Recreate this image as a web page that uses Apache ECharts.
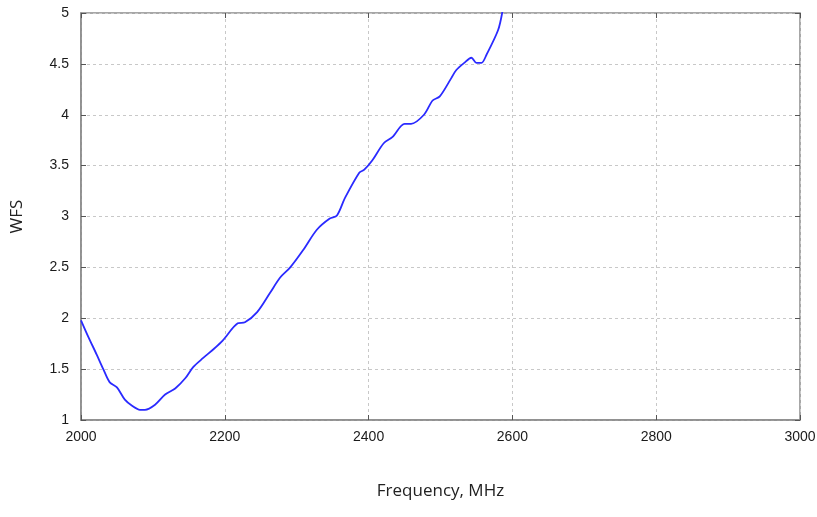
<!DOCTYPE html>
<html>
<head>
<meta charset="utf-8">
<title>WFS vs Frequency</title>
<script src="https://cdn.jsdelivr.net/npm/echarts@6/dist/echarts.min.js"></script>
<style>
  html, body { margin: 0; padding: 0; background: #fff; }
  #chart { width: 817px; height: 517px; }
</style>
</head>
<body>
<div id="chart"></div>
<script>
// 频率 (MHz)
var freq = [2000, 2010, 2022, 2031, 2040, 2050, 2061, 2071, 2082, 2089, 2103, 2117, 2131, 2145, 2156, 2170, 2185, 2197,
  2218, 2228, 2245, 2263, 2277, 2291, 2309, 2328, 2346, 2356, 2367, 2387, 2394, 2405, 2421, 2433, 2450, 2459,
  2477, 2489, 2499, 2515, 2522, 2533, 2543, 2550, 2557, 2564, 2580, 2586];
// WFS
var wfs = [1.98, 1.82, 1.64, 1.50, 1.37, 1.32, 1.20, 1.14, 1.10, 1.10, 1.15, 1.25, 1.31, 1.41, 1.52, 1.61, 1.70, 1.78,
  1.95, 1.96, 2.06, 2.25, 2.40, 2.50, 2.67, 2.87, 2.98, 3.01, 3.18, 3.43, 3.46, 3.55, 3.72, 3.78, 3.91, 3.91,
  4.00, 4.14, 4.18, 4.36, 4.44, 4.51, 4.56, 4.51, 4.51, 4.59, 4.83, 5.01];
var xTicks = [2000, 2200, 2400, 2600, 2800, 3000];
var yTicks = [1, 1.5, 2, 2.5, 3, 3.5, 4, 4.5, 5];

var points = freq.map(function (f, i) { return [f, wfs[i]]; });

var myChart = echarts.init(document.getElementById("chart"));

var labelFont = { color: "#1a1a1a", fontSize: 14, fontFamily: "Liberation Sans, Arial" };
var splitDash = { show: true, lineStyle: { color: "#c8c8c8", type: [3, 3], width: 1 } };

myChart.setOption({
  animation: false,
  grid: {
    left: 81,
    right: 17,
    top: 13,
    bottom: 97,
    outerBoundsMode: "none",
    containLabel: false,
    show: true,
    borderColor: "#8a8a8a",
    borderWidth: 1.5,
  },
  xAxis: [
    {
      type: "value",
      min: xTicks[0],
      max: xTicks[xTicks.length - 1],
      interval: 200,
      name: "Frequency, MHz",
      nameLocation: "middle",
      nameGap: 63,
      nameTextStyle: { color: "#222", fontSize: 17, fontFamily: "Open Sans" },
      axisLine: { show: true, lineStyle: { color: "#8a8a8a", width: 1.5 } },
      axisTick: { show: true, inside: true, length: 5, lineStyle: { color: "#555" } },
      axisLabel: Object.assign({ margin: 10, formatter: function (v) { return String(v); } }, labelFont),
      splitLine: splitDash,
    },
    {
      type: "value",
      position: "top",
      min: xTicks[0],
      max: xTicks[xTicks.length - 1],
      interval: 200,
      axisLine: { show: false },
      axisTick: { show: true, inside: true, length: 5, lineStyle: { color: "#555" } },
      axisLabel: { show: false },
      splitLine: { show: false },
    },
  ],
  yAxis: [
    {
      type: "value",
      min: yTicks[0],
      max: yTicks[yTicks.length - 1],
      interval: 0.5,
      name: "WFS",
      nameLocation: "middle",
      nameGap: 55,
      nameRotate: 90,
      nameTextStyle: { color: "#222", fontSize: 17, fontFamily: "Open Sans" },
      axisLine: { show: true, lineStyle: { color: "#8a8a8a", width: 1.5 } },
      axisTick: { show: true, inside: true, length: 5, lineStyle: { color: "#555" } },
      axisLabel: Object.assign({ margin: 12 }, labelFont),
      splitLine: splitDash,
    },
    {
      type: "value",
      position: "right",
      min: yTicks[0],
      max: yTicks[yTicks.length - 1],
      interval: 0.5,
      axisLine: { show: false },
      axisTick: { show: true, inside: true, length: 5, lineStyle: { color: "#555" } },
      axisLabel: { show: false },
      splitLine: { show: false },
    },
  ],
  series: [
    {
      name: "WFS",
      type: "line",
      data: points,
      smooth: 0.3,
      showSymbol: false,
      clip: true,
      lineStyle: { color: "#2a2aff", width: 1.8 },
    },
  ],
});
</script>
</body>
</html>
